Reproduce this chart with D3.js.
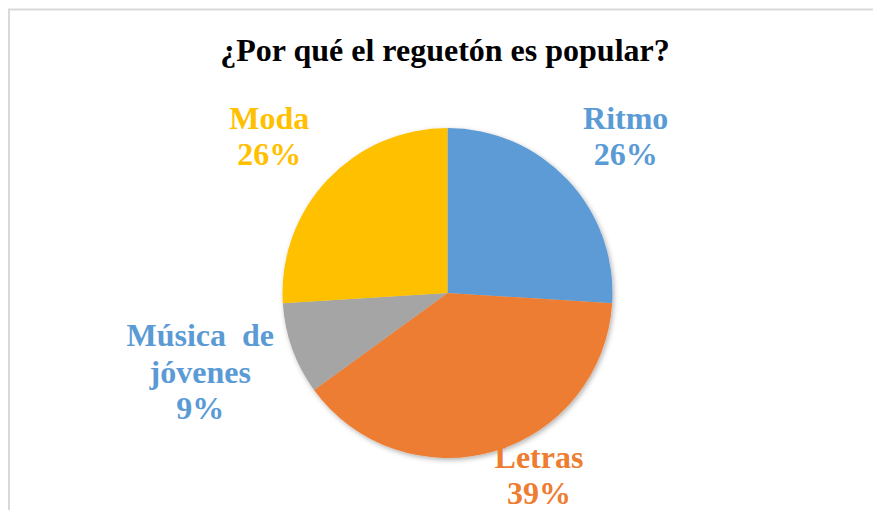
<html>
<head>
<meta charset="utf-8">
<style>
  body { margin: 0; background: #fff; }
</style>
<script src="https://cdn.jsdelivr.net/npm/d3@7"></script>
</head>
<body>
<svg id="chart"></svg>
<script>
var width = 873;
var height = 510;

// data
var categories = ["Ritmo", "Letras", "Música  de|jóvenes", "Moda"];
var shares = [26, 39, 9, 26];
var sliceColors = ["#5B9BD5", "#ED7D31", "#A5A5A5", "#FFC000"];
var labelColors = ["#5B9BD5", "#ED7D31", "#5B9BD5", "#FFC000"];

var cx = 447.5, cy = 293, radius = 165;
var fontFamily = "'Liberation Serif', 'Times New Roman', Times, serif";

// label nudges from the arc centroid (pixels), one per slice
var labelNudge = [[11, 1], [27.5, -37], [-31.5, 2], [-11, 1]];

var svg = d3.select("#chart")
  .attr("width", width).attr("height", height)
  .style("font-family", fontFamily)
  .style("font-weight", "bold");

svg.append("rect")
  .attr("x", 9).attr("y", 9.5)
  .attr("width", 900).attr("height", 540)
  .attr("fill", "none")
  .attr("stroke", "#d9d9d9")
  .attr("stroke-width", 2);

var defs = svg.append("defs");
defs.append("filter").attr("id", "shadow")
    .attr("x", "-10%").attr("y", "-10%").attr("width", "120%").attr("height", "120%")
  .append("feDropShadow")
    .attr("dx", 1.5).attr("dy", 2)
    .attr("stdDeviation", 2.5)
    .attr("flood-color", "#000")
    .attr("flood-opacity", 0.3);

svg.append("text")
  .attr("x", 445).attr("y", 61)
  .attr("text-anchor", "middle")
  .attr("font-family", fontFamily)
  .attr("font-weight", "bold")
  .attr("font-size", 32)
  .attr("fill", "#000")
  .text("¿Por qué el reguetón es popular?");

var rows = categories.map(function(c, i) { return {name: c, value: shares[i], i: i}; });

var pie = d3.pie().sort(null).value(function(d) { return d.value; });
var arc = d3.arc().innerRadius(0).outerRadius(radius);
var labelArc = d3.arc().innerRadius(radius * 1.39).outerRadius(radius * 1.39);

var g = svg.append("g").attr("transform", "translate(" + cx + "," + cy + ")");

g.append("g").attr("filter", "url(#shadow)")
  .selectAll("path")
  .data(pie(rows))
  .join("path")
    .attr("d", arc)
    .attr("fill", function(d) { return sliceColors[d.data.i]; });

var labels = g.selectAll("text.lbl")
  .data(pie(rows))
  .join("text")
    .attr("class", "lbl")
    .attr("text-anchor", "middle")
    .attr("font-family", fontFamily)
    .attr("font-weight", "bold")
    .attr("font-size", 32)
    .attr("fill", function(d) { return labelColors[d.data.i]; })
    .attr("transform", function(d) {
      var c = labelArc.centroid(d);
      var n = labelNudge[d.data.i];
      return "translate(" + (c[0] + n[0]) + "," + (c[1] + n[1]) + ")";
    });

labels.each(function(d) {
  var lines = d.data.name.split("|").concat([d.data.value + "%"]);
  var t = d3.select(this);
  var lineH = 36.5;
  var top = -(lines.length - 1) * lineH / 2 + 10;
  lines.forEach(function(l, k) {
    t.append("tspan")
      .attr("x", 0)
      .attr("y", top + k * lineH)
      .style("white-space", "pre")
      .text(l);
  });
});
</script>
</body>
</html>
